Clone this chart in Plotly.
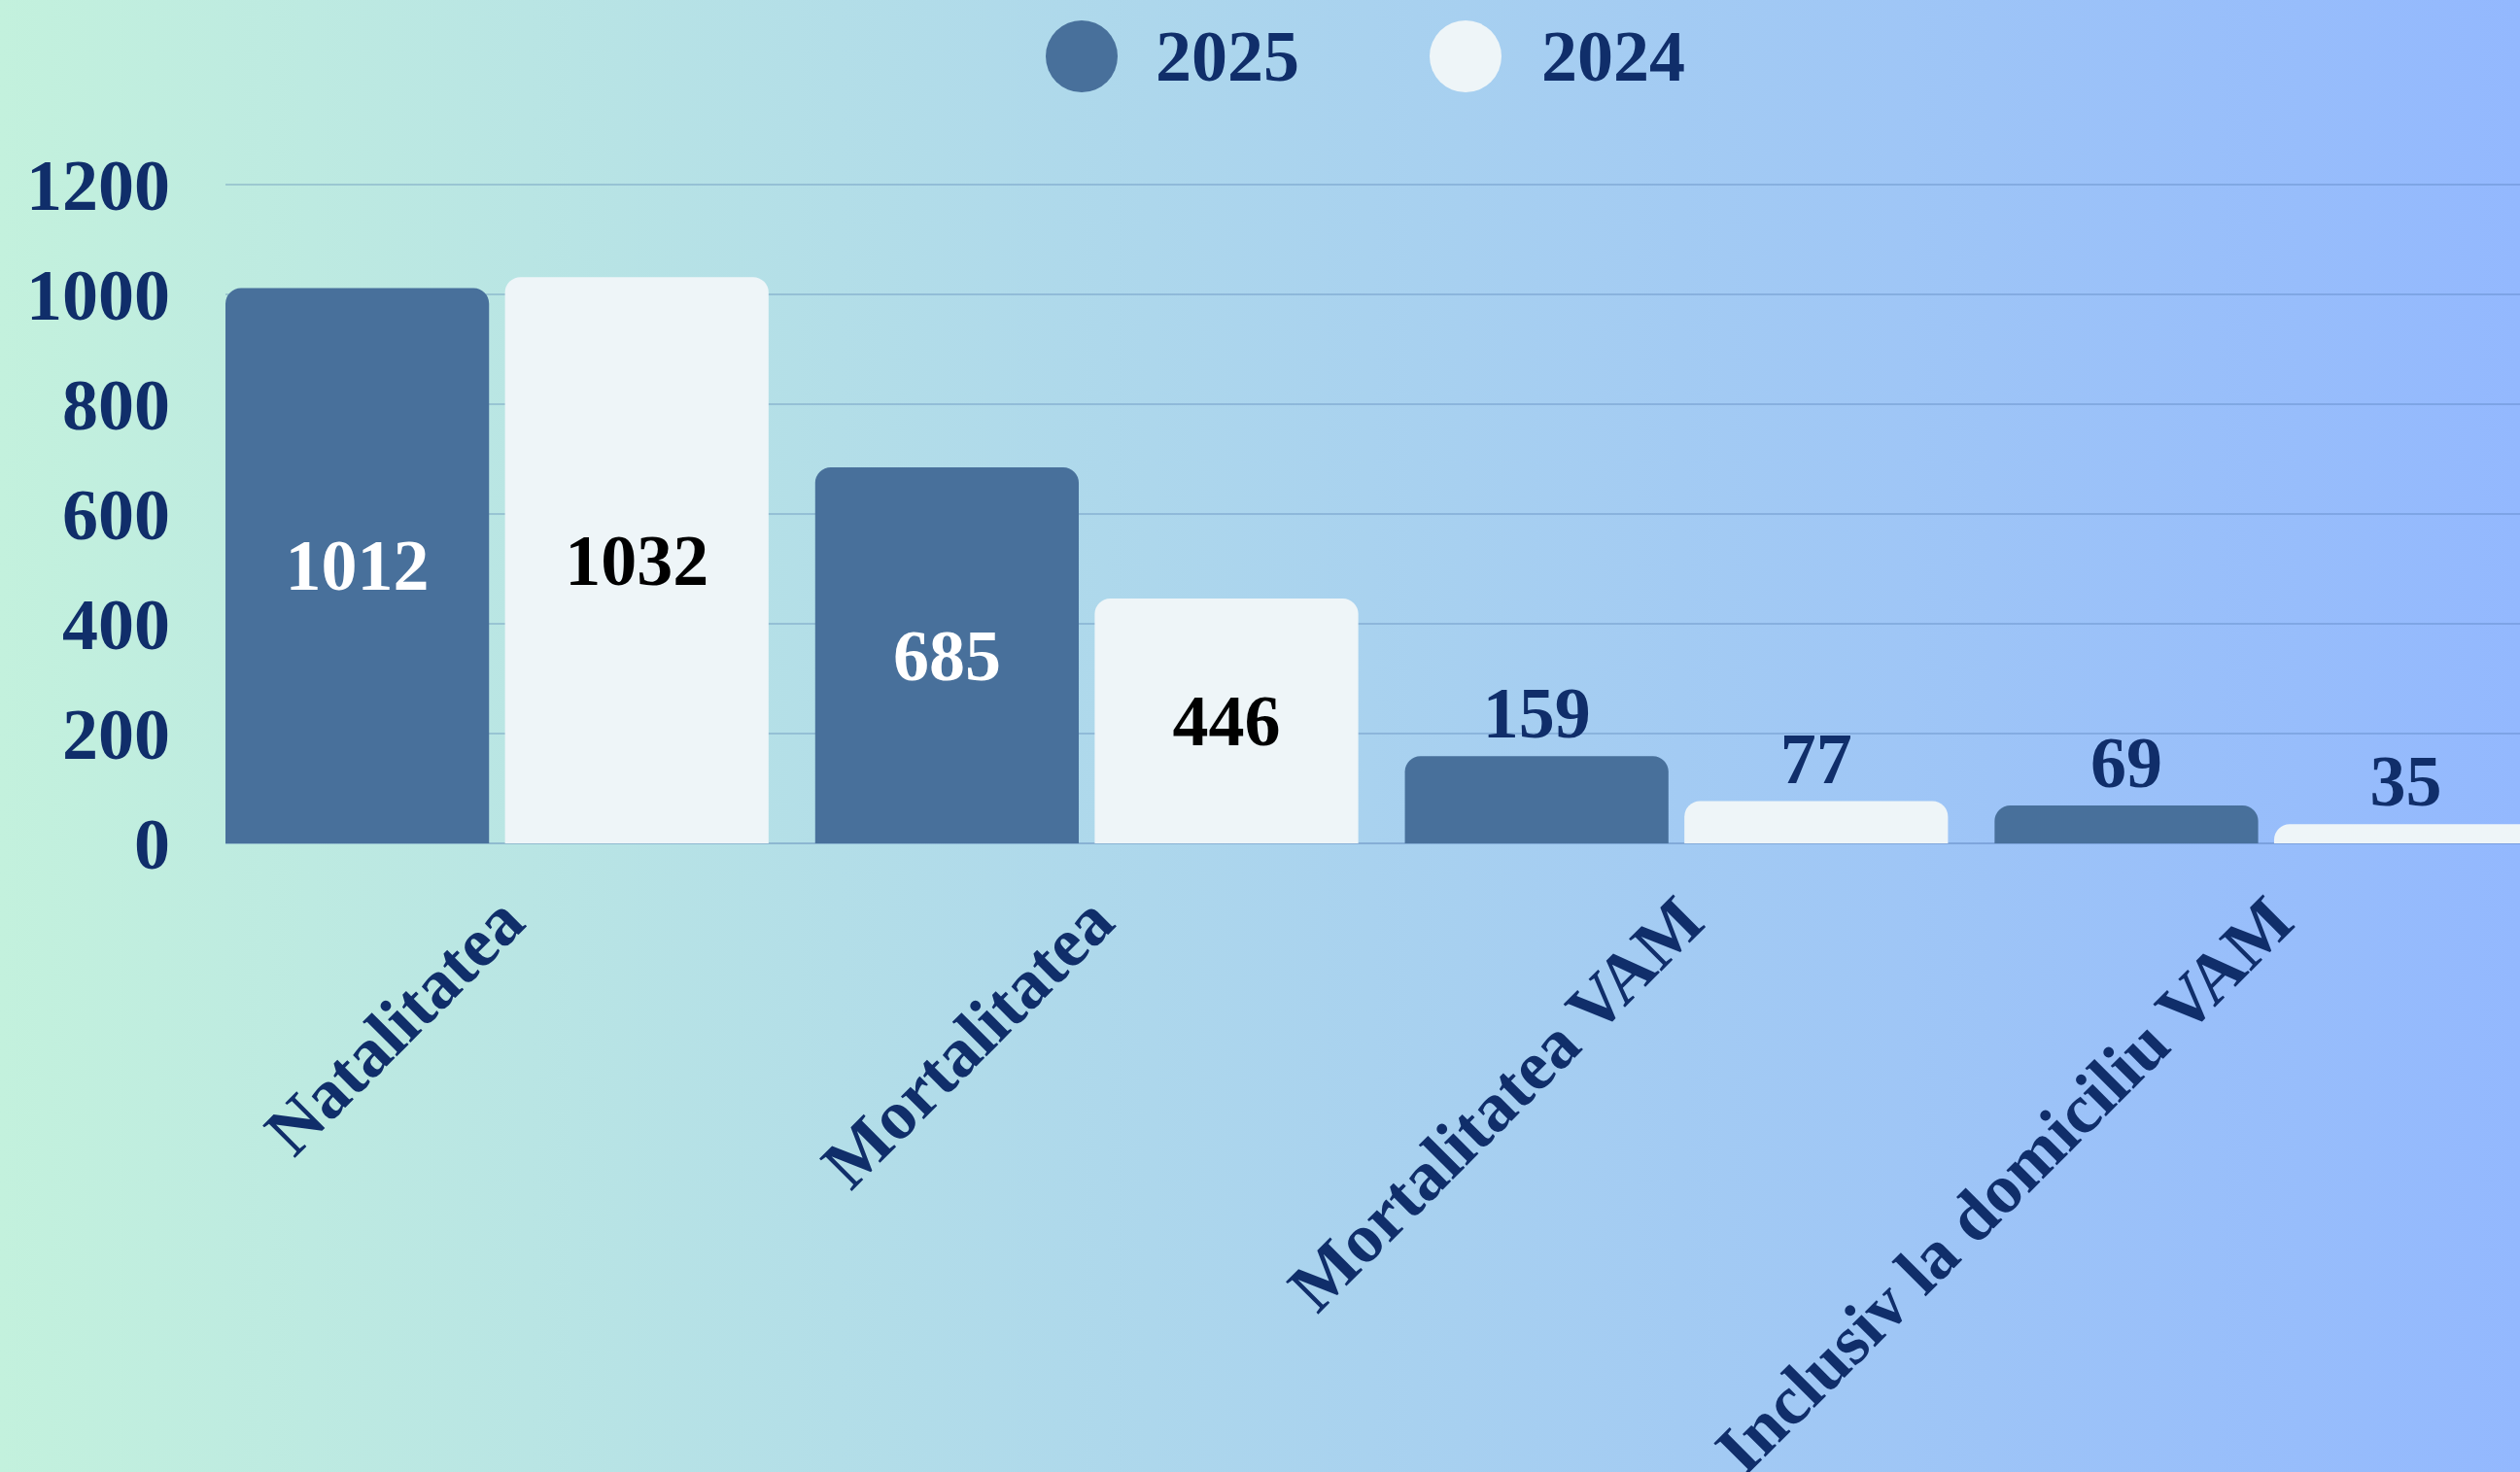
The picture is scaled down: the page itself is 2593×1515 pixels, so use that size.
import base64

import plotly.graph_objects as go

categories = ["Natalitatea", "Mortalitatea", "Mortalitatea VAM", "Inclusiv la domiciliu VAM"]
series_names = ["2025", "2024"]
values_2025 = [1012, 685, 159, 69]
values_2024 = [1032, 446, 77, 35]

W, H = 2593, 1515
ML, MR, MT, MB = 232, 0, 188, 647
PW, PH = W - ML - MR, H - MT - MB

NAVY = "#102e6a"
DARK = "#48709b"
LIGHT = "#eef5f8"
FONT = "Liberation Serif"


def px_x(p):
    return (p - ML) / PW


def px_y(p):
    return (H - MB - p) / PH


def label_pos(vals):
    # big bars get the number inside, small ones on top
    return ["inside" if v > 300 else "outside" for v in vals]


fig = go.Figure()
for name, vals, color, txtcolor in [
    (series_names[0], values_2025, DARK, "white"),
    (series_names[1], values_2024, LIGHT, "black"),
]:
    fig.add_trace(go.Bar(
        x=categories, y=vals, name=name,
        marker=dict(color=color, cornerradius=16, line=dict(width=0)),
        texttemplate="%{y}", textposition=label_pos(vals),
        insidetextanchor="middle",
        insidetextfont=dict(family=FONT, size=74, color=txtcolor, weight="bold"),
        outsidetextfont=dict(family=FONT, size=74, color=NAVY, weight="bold"),
        cliponaxis=False, showlegend=False,
    ))

# background gradient
svg = (f'<svg xmlns="http://www.w3.org/2000/svg" width="{W}" height="{H}" preserveAspectRatio="none">'
       '<defs><linearGradient id="g" x1="0" x2="1" y1="0" y2="0">'
       '<stop offset="0" stop-color="#c3f1dd"/><stop offset="1" stop-color="#93b8fe"/>'
       '</linearGradient></defs><rect width="100%" height="100%" fill="url(#g)"/></svg>')
bg = "data:image/svg+xml;base64," + base64.b64encode(svg.encode()).decode()

# hand made legend with big circles
legend_items = [(series_names[0], DARK, 1113, 1187), (series_names[1], LIGHT, 1508, 1584)]
shapes, annotations = [], []
for name, color, cx, tx in legend_items:
    shapes.append(dict(type="circle", xref="paper", yref="paper",
                       xsizemode="pixel", ysizemode="pixel",
                       xanchor=px_x(cx), yanchor=px_y(58),
                       x0=-37, x1=37, y0=-37, y1=37,
                       fillcolor=color, line=dict(width=0)))
    annotations.append(dict(text=name, xref="paper", yref="paper",
                            x=px_x(tx), y=px_y(58), xanchor="left", yanchor="middle",
                            showarrow=False,
                            font=dict(family=FONT, size=74, color=NAVY, weight="bold")))

fig.update_layout(
    width=W, height=H,
    margin=dict(l=ML, r=MR, t=MT, b=MB),
    paper_bgcolor="rgba(0,0,0,0)", plot_bgcolor="rgba(0,0,0,0)",
    barmode="group", bargap=0.052, bargroupgap=0.057,
    showlegend=False,
    images=[dict(source=bg, xref="paper", yref="paper", x=px_x(0), y=px_y(0),
                 sizex=W / PW, sizey=H / PH, xanchor="left", yanchor="top",
                 sizing="stretch", layer="below")],
    shapes=shapes, annotations=annotations,
    font=dict(family=FONT, color=NAVY),
)
fig.update_xaxes(
    range=[-0.4605, 3.4305], automargin=False, showgrid=False, showline=False,
    tickangle=-45, ticklabelstandoff=22, ticklabelshift=6,
    tickfont=dict(family=FONT, size=72, color=NAVY, weight="bold"),
)
fig.update_yaxes(
    range=[0, 1204], dtick=200, automargin=False,
    showgrid=True, gridcolor="rgba(70,110,170,0.28)", gridwidth=2,
    zeroline=True, zerolinecolor="rgba(70,110,170,0.35)", zerolinewidth=2,
    ticklabelstandoff=56,
    tickfont=dict(family=FONT, size=74, color=NAVY, weight="bold"),
)

fig.write_html("out.html", config={"displayModeBar": False},
               post_script="document.body.style.margin='0';")
